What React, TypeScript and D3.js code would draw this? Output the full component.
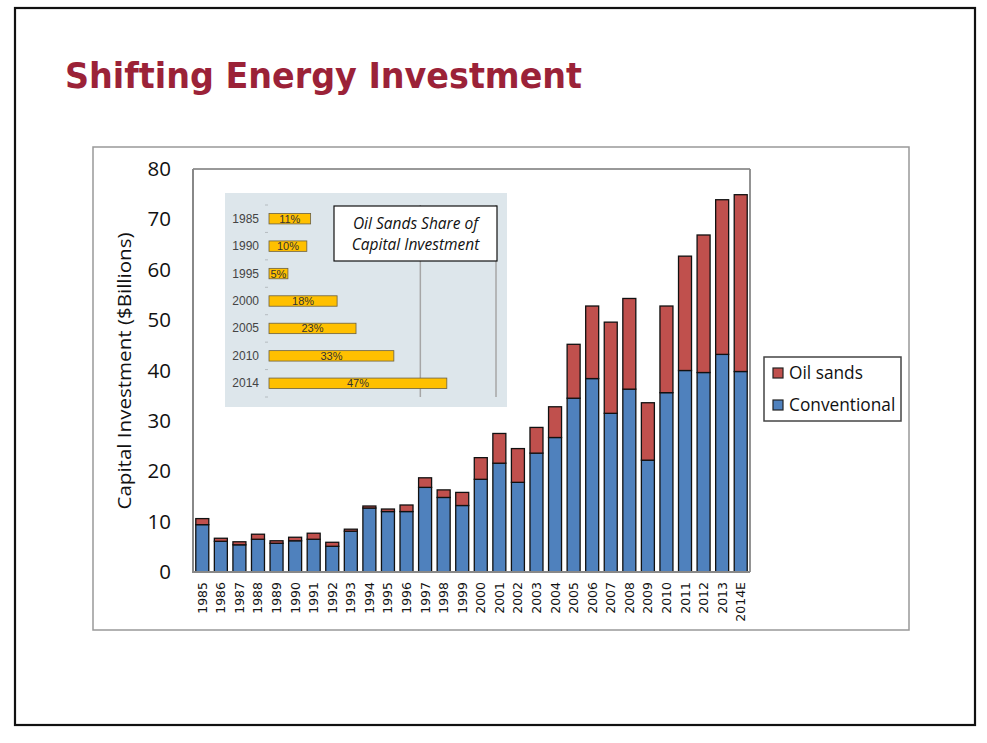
import React, { useRef, useEffect } from 'react';
import * as d3 from 'd3';

const years = [
  '1985', '1986', '1987', '1988', '1989', '1990', '1991', '1992', '1993', '1994',
  '1995', '1996', '1997', '1998', '1999', '2000', '2001', '2002', '2003', '2004',
  '2005', '2006', '2007', '2008', '2009', '2010', '2011', '2012', '2013', '2014E',
];
const conventional = [
  9.4, 6.1, 5.4, 6.5, 5.7, 6.2, 6.5, 5.1, 8.1, 12.7,
  12.0, 12.0, 16.8, 14.8, 13.2, 18.4, 21.6, 17.8, 23.6, 26.7,
  34.5, 38.4, 31.5, 36.3, 22.2, 35.6, 40.0, 39.6, 43.2, 39.8,
];
const oilSands = [
  1.2, 0.6, 0.6, 1.0, 0.5, 0.7, 1.2, 0.8, 0.4, 0.4,
  0.5, 1.3, 1.9, 1.5, 2.6, 4.3, 5.9, 6.7, 5.1, 6.1,
  10.7, 14.4, 18.1, 18.0, 11.4, 17.2, 22.7, 27.3, 30.7, 35.1,
];
const yTicks = [0, 10, 20, 30, 40, 50, 60, 70, 80];

// inset: oil sands share of capital investment
const shareYears = ['1985', '1990', '1995', '2000', '2005', '2010', '2014'];
const shares = [11, 10, 5, 18, 23, 33, 47];
const shareGrid = [40, 60];

const BLUE = '#4f81bd';
const RED = '#c0504d';
const SANS = '"Open Sans", "DejaVu Sans", sans-serif';

export default function App() {
  const svgRef = useRef<SVGSVGElement>(null);

  useEffect(() => {
    if (!svgRef.current) return;
    const svg = d3.select(svgRef.current);
    svg.selectAll('*').remove();

    // slide frame
    svg.append('rect')
      .attr('x', 15).attr('y', 8).attr('width', 960).attr('height', 717)
      .attr('fill', '#fff').attr('stroke', '#111').attr('stroke-width', 2.2);

    svg.append('text')
      .attr('x', 65).attr('y', 88)
      .attr('font-family', '"DejaVu Sans", Verdana, sans-serif')
      .attr('font-weight', 'bold').attr('font-size', 36)
      .attr('textLength', 517).attr('lengthAdjust', 'spacingAndGlyphs')
      .attr('fill', '#9b2238')
      .text('Shifting Energy Investment');

    // chart frame
    svg.append('rect')
      .attr('x', 93).attr('y', 147).attr('width', 816).attr('height', 483)
      .attr('fill', '#fff').attr('stroke', '#999').attr('stroke-width', 1.5);

    const plot = { left: 193, right: 750, top: 169, bottom: 572 };

    const x = d3.scaleBand<string>()
      .domain(years)
      .range([plot.left, plot.right])
      .paddingInner(0.3)
      .paddingOuter(0.15);
    const y = d3.scaleLinear().domain([0, 80]).range([plot.bottom, plot.top]);

    const rows = years.map((yr, i) => ({ year: yr, conventional: conventional[i], oilSands: oilSands[i] }));
    const stacked = d3.stack<any>().keys(['conventional', 'oilSands'])(rows);
    const colors = [BLUE, RED];

    // inset panel
    const inset = svg.append('g').attr('class', 'inset');
    inset.append('rect')
      .attr('x', 225).attr('y', 193).attr('width', 282).attr('height', 214)
      .attr('fill', '#dde6eb');

    const sx = d3.scaleLinear().domain([0, 60]).range([269, 496]);
    const sy = d3.scaleBand<string>()
      .domain(shareYears)
      .range([205, 397])
      .paddingInner(0.62)
      .paddingOuter(0.31);

    inset.selectAll('line.grid')
      .data(shareGrid)
      .join('line')
      .attr('class', 'grid')
      .attr('x1', d => sx(d)).attr('x2', d => sx(d))
      .attr('y1', 205).attr('y2', 397)
      .attr('stroke', '#a6a6a6').attr('stroke-width', 1.5);

    // faint category ticks
    inset.selectAll('line.tick')
      .data(d3.range(shareYears.length + 1))
      .join('line')
      .attr('class', 'tick')
      .attr('x1', sx(0) - 4).attr('x2', sx(0) - 1)
      .attr('y1', i => 205 + i * sy.step()).attr('y2', i => 205 + i * sy.step())
      .attr('stroke', '#b5bcc0').attr('stroke-width', 1);

    inset.selectAll('rect.share')
      .data(shares)
      .join('rect')
      .attr('class', 'share')
      .attr('x', sx(0))
      .attr('y', (_, i) => sy(shareYears[i])!)
      .attr('width', d => sx(d) - sx(0))
      .attr('height', sy.bandwidth())
      .attr('fill', '#ffc000')
      .attr('stroke', '#6b6040').attr('stroke-width', 0.8);

    inset.selectAll('text.share')
      .data(shares)
      .join('text')
      .attr('class', 'share')
      .attr('x', d => (sx(d) + sx(0)) / 2)
      .attr('y', (_, i) => sy(shareYears[i])! + sy.bandwidth() / 2 + 4)
      .attr('text-anchor', 'middle')
      .attr('font-family', '"Liberation Sans", Arial, sans-serif')
      .attr('font-size', 11)
      .attr('fill', '#333')
      .text(d => `${d}%`);

    inset.selectAll('text.yr')
      .data(shareYears)
      .join('text')
      .attr('class', 'yr')
      .attr('x', 259)
      .attr('y', d => sy(d)! + sy.bandwidth() / 2 + 4)
      .attr('text-anchor', 'end')
      .attr('font-family', '"Liberation Sans", Arial, sans-serif')
      .attr('font-size', 12)
      .attr('fill', '#444')
      .text(d => d);

    inset.append('rect')
      .attr('x', 334).attr('y', 206).attr('width', 163).attr('height', 55)
      .attr('fill', '#fff').attr('stroke', '#111').attr('stroke-width', 1.2);
    ['Oil Sands Share of', 'Capital Investment'].forEach((t, i) => {
      inset.append('text')
        .attr('x', 415.5).attr('y', 229 + i * 21)
        .attr('text-anchor', 'middle')
        .attr('font-family', SANS)
        .attr('font-style', 'italic')
        .attr('font-size', 15.5)
        .attr('fill', '#111')
        .text(t);
    });

    // stacked bars
    const g = svg.append('g').attr('class', 'bars');
    g.selectAll('g.series')
      .data(stacked)
      .join('g')
      .attr('class', 'series')
      .attr('fill', (_, i) => colors[i])
      .selectAll('rect')
      .data(d => d)
      .join('rect')
      .attr('x', d => x(d.data.year)!)
      .attr('y', d => y(d[1]))
      .attr('width', x.bandwidth())
      .attr('height', d => y(d[0]) - y(d[1]))
      .attr('stroke', '#111')
      .attr('stroke-width', 1.3);

    // plot border / axes
    svg.append('line')
      .attr('x1', plot.left).attr('x2', plot.right).attr('y1', plot.top).attr('y2', plot.top)
      .attr('stroke', '#333').attr('stroke-width', 1);
    svg.append('line')
      .attr('x1', plot.right).attr('x2', plot.right).attr('y1', plot.top).attr('y2', plot.bottom)
      .attr('stroke', '#888').attr('stroke-width', 1.8);
    svg.append('line')
      .attr('x1', plot.left).attr('x2', plot.left).attr('y1', plot.top).attr('y2', plot.bottom + 1)
      .attr('stroke', '#888').attr('stroke-width', 2);
    svg.append('line')
      .attr('x1', plot.left).attr('x2', plot.right).attr('y1', plot.bottom).attr('y2', plot.bottom)
      .attr('stroke', '#888').attr('stroke-width', 2);

    // y tick labels
    svg.selectAll('text.ytick')
      .data(yTicks)
      .join('text')
      .attr('class', 'ytick')
      .attr('x', 171)
      .attr('y', d => y(d) + 7)
      .attr('text-anchor', 'end')
      .attr('font-family', SANS)
      .attr('font-size', 20.5)
      .attr('fill', '#111')
      .text(d => d);

    svg.append('text')
      .attr('transform', `translate(131, ${371}) rotate(-90)`)
      .attr('text-anchor', 'middle')
      .attr('font-family', SANS)
      .attr('font-size', 19)
      .attr('textLength', 277).attr('lengthAdjust', 'spacingAndGlyphs')
      .attr('fill', '#111')
      .text('Capital Investment ($Billions)');

    // x tick labels
    svg.selectAll('text.xtick')
      .data(years)
      .join('text')
      .attr('class', 'xtick')
      .attr('transform', d => `translate(${x(d)! + x.bandwidth() / 2 + 4.5}, 582) rotate(-90)`)
      .attr('text-anchor', 'end')
      .attr('font-family', '"DejaVu Sans", Verdana, sans-serif')
      .attr('font-size', 12.5)
      .attr('fill', '#111')
      .text(d => d);

    // legend
    const lg = svg.append('g').attr('class', 'legend');
    lg.append('rect')
      .attr('x', 764).attr('y', 357).attr('width', 137).attr('height', 64)
      .attr('fill', '#fff').attr('stroke', '#444').attr('stroke-width', 1.5);
    [
      { label: 'Oil sands', color: RED },
      { label: 'Conventional', color: BLUE },
    ].forEach((item, i) => {
      lg.append('rect')
        .attr('x', 773).attr('y', 368 + i * 32).attr('width', 10).attr('height', 10)
        .attr('fill', item.color).attr('stroke', '#222').attr('stroke-width', 1.2);
      lg.append('text')
        .attr('x', 789).attr('y', 379 + i * 32)
        .attr('font-family', SANS)
        .attr('font-size', 17.3)
        .attr('fill', '#111')
        .text(item.label);
    });
  }, []);

  return (
    <div style={{ position: 'absolute', left: 0, top: 0, width: 987, height: 743, background: '#fff' }}>
      <svg ref={svgRef} width={987} height={743} />
    </div>
  );
}
